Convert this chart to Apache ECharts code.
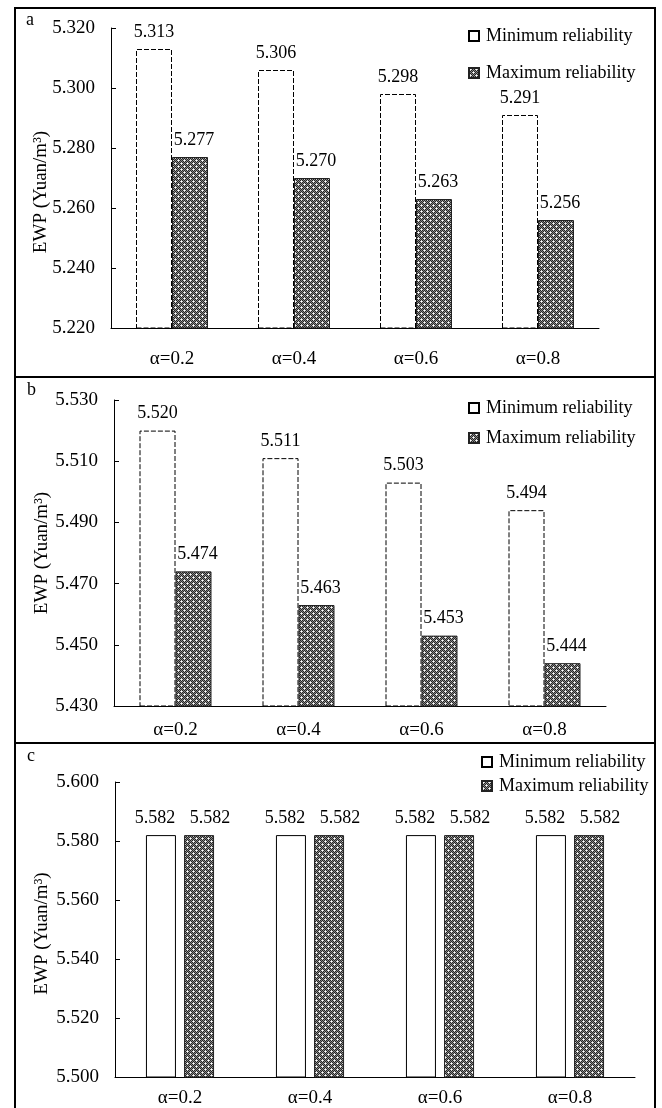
<!DOCTYPE html>
<html>
<head>
<meta charset="utf-8">
<script src="https://cdn.jsdelivr.net/npm/echarts@6/dist/echarts.min.js"></script>
<style>
html,body{margin:0;padding:0;background:#fff;}
#chart{width:662px;height:1108px;}
</style>
</head>
<body>
<div id="chart"></div>
<script>
// ---- data ----
var categories = ['α=0.2', 'α=0.4', 'α=0.6', 'α=0.8'];
var aMin = [5.313, 5.306, 5.298, 5.291];
var aMax = [5.277, 5.270, 5.263, 5.256];
var bMin = [5.520, 5.511, 5.503, 5.494];
var bMax = [5.474, 5.463, 5.453, 5.444];
var cMin = [5.582, 5.582, 5.582, 5.582];
var cMax = [5.582, 5.582, 5.582, 5.582];
var axisA = {min: 5.22, max: 5.32, interval: 0.02};
var axisB = {min: 5.43, max: 5.53, interval: 0.02};
var axisC = {min: 5.50, max: 5.60, interval: 0.02};
var legendNames = ['Minimum reliability', 'Maximum reliability'];
var yName = 'EWP (Yuan/m³)';
var panelLetters = ['a', 'b', 'c'];

// ---- pattern fill for "maximum" bars ----
function makePattern() {
  var c = document.createElement('canvas');
  c.width = 6; c.height = 6;
  var ctx = c.getContext('2d');
  for (var y = 0; y < 6; y++) {
    for (var x = 0; x < 6; x++) {
      ctx.fillStyle = ((x + y) % 2 === 0) ? '#242424' : '#858585';
      ctx.fillRect(x, y, 1, 1);
    }
  }
  function plus(px, py) {
    ctx.fillStyle = '#d0d0d0';
    ctx.fillRect(px - 1, py, 3, 1);
    ctx.fillRect(px, py - 1, 1, 3);
    ctx.fillStyle = '#ffffff';
    ctx.fillRect(px, py, 1, 1);
  }
  plus(1, 1);
  plus(4, 4);
  return {image: c, repeat: 'repeat'};
}
var pattern = makePattern();

var FONT = 'Liberation Serif';
var grids = [
  {left: 111, width: 488, top: 28, height: 300},
  {left: 114, width: 492, top: 400, height: 306},
  {left: 115, width: 520, top: 782, height: 298}
];
var axes = [axisA, axisB, axisC];
var xMargins = [22, 15, 12];
var nameGaps = [60, 62, 63];
var namePads = [[0, 28, 0, 0], [0, 0, 0, 0], [0, 8, 0, 0]];
var labelOffsets = [[[0, 0], [4, 0]], [[0, 0], [4, 0]], [[-6, 0], [11, 0]]];

var xAxis = [], yAxis = [], series = [];
var sets = [[aMin, aMax], [bMin, bMax], [cMin, cMax]];
function fmt3(p) { return p.value.toFixed(3); }
for (var i = 0; i < 3; i++) {
  xAxis.push({
    type: 'category', gridIndex: i, data: categories,
    axisLine: {lineStyle: {color: '#000', width: 1}},
    axisTick: {inside: true, length: 5, lineStyle: {color: '#000'}},
    axisLabel: {fontFamily: FONT, fontSize: 19, color: '#000', margin: xMargins[i]}
  });
  yAxis.push({
    type: 'value', gridIndex: i,
    min: axes[i].min, max: axes[i].max, interval: axes[i].interval,
    name: yName, nameLocation: 'middle', nameGap: nameGaps[i], nameMoveOverlap: false,
    nameTextStyle: {fontFamily: FONT, fontSize: 19, color: '#000', padding: namePads[i]},
    axisLine: {show: true, lineStyle: {color: '#000', width: 1}},
    axisTick: {show: true, inside: true, length: 5, lineStyle: {color: '#000'}},
    axisLabel: {fontFamily: FONT, fontSize: 19, color: '#000', margin: 16,
      formatter: function (v) { return v.toFixed(3); }},
    splitLine: {show: false}
  });
  var dashed = i < 2;
  var bw = i < 2 ? 36 : 30;
  var gap = i < 2 ? '0%' : '27%';
  series.push({
    name: panelLetters[i] + '-min', type: 'bar', xAxisIndex: i, yAxisIndex: i,
    data: sets[i][0], barWidth: bw, barGap: gap,
    itemStyle: {color: '#fff', borderColor: '#000', borderWidth: 1, borderType: dashed ? [5, 2] : 'solid'},
    label: {show: true, position: 'top', distance: 8, offset: labelOffsets[i][0],
      fontFamily: FONT, fontSize: 18, color: '#000', formatter: fmt3},
    silent: true
  });
  series.push({
    name: panelLetters[i] + '-max', type: 'bar', xAxisIndex: i, yAxisIndex: i,
    data: sets[i][1], barWidth: bw, barGap: gap,
    itemStyle: {color: pattern, borderColor: '#222', borderWidth: 1},
    label: {show: true, position: 'top', distance: 8, offset: labelOffsets[i][1],
      fontFamily: FONT, fontSize: 18, color: '#000', formatter: fmt3},
    silent: true
  });
}

var legendPos = [
  {left: 468, tops: [27, 64], size: 18},
  {left: 468, tops: [399, 429], size: 18},
  {left: 481, tops: [753, 777], size: 18}
];
var legends = [];
for (var j = 0; j < 3; j++) {
  for (var k = 0; k < 2; k++) {
    legends.push({
      left: legendPos[j].left, top: legendPos[j].tops[k], padding: 0,
      data: [panelLetters[j] + (k === 0 ? '-min' : '-max')],
      icon: 'rect', itemWidth: 10, itemHeight: 10, itemGap: 0,
      selectedMode: false,
      formatter: function (n) { return /-min$/.test(n) ? legendNames[0] : legendNames[1]; },
      textStyle: {fontFamily: FONT, fontSize: legendPos[j].size, color: '#000', padding: [0, 0, 0, 2]}
    });
  }
}

var graphic = [
  {type: 'rect', shape: {x: 15, y: 8, width: 640, height: 1110}, style: {fill: null, stroke: '#000', lineWidth: 2}, silent: true},
  {type: 'line', shape: {x1: 15, y1: 377, x2: 655, y2: 377}, style: {stroke: '#000', lineWidth: 2}, silent: true},
  {type: 'line', shape: {x1: 15, y1: 743, x2: 655, y2: 743}, style: {stroke: '#000', lineWidth: 2}, silent: true},
  {type: 'text', left: 26, top: 11, style: {text: 'a', fontFamily: FONT, fontSize: 18, fill: '#000'}},
  {type: 'text', left: 27, top: 381, style: {text: 'b', fontFamily: FONT, fontSize: 18, fill: '#000'}},
  {type: 'text', left: 27, top: 747, style: {text: 'c', fontFamily: FONT, fontSize: 18, fill: '#000'}}
];

var chart = echarts.init(document.getElementById('chart'), null, {renderer: 'canvas'});
chart.setOption({
  animation: false,
  backgroundColor: '#fff',
  grid: grids,
  xAxis: xAxis,
  yAxis: yAxis,
  series: series,
  legend: legends,
  graphic: graphic
});
</script>
</body>
</html>
